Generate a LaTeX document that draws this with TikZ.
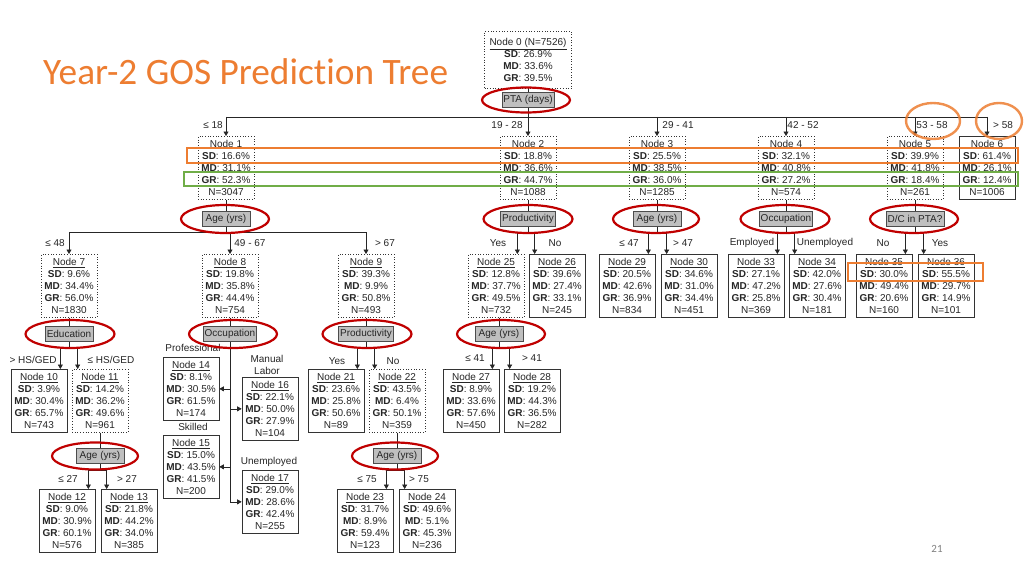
\documentclass[tikz,border=0pt]{standalone}
\usepackage{fontspec}
\setmainfont{Liberation Sans}
\newfontfamily\titlefont[Ligatures=NoCommon]{Carlito}
\usetikzlibrary{arrows.meta,shapes.geometric}
\definecolor{accorange}{RGB}{237,125,49}
\definecolor{accgreen}{RGB}{112,173,71}
\definecolor{accred}{RGB}{192,0,0}
\tikzset{
 statbox/.style={draw=black!80, line width=0.7pt, align=center, anchor=north, inner xsep=1pt, inner ysep=0pt,
   minimum width=56pt, minimum height=63pt, font=\fontsize{10}{12}\selectfont, text=black!85},
 dotbox/.style={statbox, dotted},
 solbox/.style={statbox},
 splitbox/.style={draw=black!70, line width=0.7pt, fill=black!25, font=\fontsize{10}{11}\selectfont, text=black!85,
   inner xsep=1.5pt, inner ysep=1pt, minimum width=48pt, minimum height=15pt},
 redring/.style={draw=accred, line width=2.2pt, ellipse, inner sep=0pt},
 conn/.style={draw=black!85, line width=0.7pt},
 arr/.style={conn, -{Triangle[length=4.5pt,width=5pt]}},
 lab/.style={font=\fontsize{10}{12}\selectfont, text=black!85, inner sep=1pt, align=center},
 hilite/.style={draw=accorange, line width=2pt},
}
\newcommand\stat[8]{\node[#2] (#1) at (#3) {#4\\\textbf{SD}: #5\%\\\textbf{MD}: #6\%\\\textbf{GR}: #7\%\\N=#8};}
\newcommand\twoway[3]{%
 \coordinate (#2a) at ([xshift=-7pt]#2.north east);
 \coordinate (#3a) at ([xshift=6pt]#3.north west);
 \coordinate (#1j) at ([yshift=-6pt]#1.south);
 \draw[conn] (#1.south) -- (#1j);
 \draw[conn] (#2a |- #1j) -- (#3a |- #1j);
 \draw[arr] (#2a |- #1j) -- (#2a);
 \draw[arr] (#3a |- #1j) -- (#3a);}
\begin{document}
\begin{tikzpicture}[x=1pt,y=-1pt]
\useasboundingbox (0,0) rectangle (1024,576);
\fill[white] (0,0) rectangle (1024,576);

% title
\node[anchor=base west, inner sep=0pt, font=\titlefont\fontsize{37.3}{40}\selectfont, text=accorange] (title) at (43,84) {Year-2 GOS Prediction Tree};
\node[font=\titlefont\fontsize{11}{12}\selectfont, text=black!50] (pg) at (937,549) {21};

% root
\node[dotbox, minimum width=87pt, minimum height=57pt] (n0) at (528,31)
  {\underline{Node 0 (N=7526)}\\\textbf{SD}: 26.9\%\\\textbf{MD}: 33.6\%\\\textbf{GR}: 39.5\%};
\node[splitbox] (pta) at (528,100) {PTA (days)};

% row 1
\stat{n1}{dotbox}{226,136}{Node 1}{16.6}{31.1}{52.3}{3047}
\stat{n2}{dotbox}{528,136}{Node 2}{18.8}{36.6}{44.7}{1088}
\stat{n3}{dotbox}{657,136}{Node 3}{25.5}{38.5}{36.0}{1285}
\stat{n4}{dotbox}{786,136}{Node 4}{32.1}{40.8}{27.2}{574}
\stat{n5}{dotbox}{915,136}{Node 5}{39.9}{41.8}{18.4}{261}
\stat{n6}{solbox}{987,136}{Node 6}{61.4}{26.1}{12.4}{1006}

\node[splitbox] (s1) at (226,219) {Age (yrs)};
\node[splitbox] (s2) at (528,219) {Productivity};
\node[splitbox] (s3) at (657,219) {Age (yrs)};
\node[splitbox] (s4) at (786,219) {Occupation};
\node[splitbox] (s5) at (915,219) {D/C in PTA?};

% row 2
\stat{n7}{dotbox}{69,254}{\underline{Node 7}}{9.6}{34.4}{56.0}{1830}
\stat{n8}{dotbox}{230,254}{\underline{Node 8}}{19.8}{35.8}{44.4}{754}
\stat{n9}{dotbox}{366,254}{\underline{Node 9}}{39.3}{9.9}{50.8}{493}
\stat{n25}{dotbox}{496,254}{\underline{Node 25}}{12.8}{37.7}{49.5}{732}
\stat{n26}{solbox}{557,254}{\underline{Node 26}}{39.6}{27.4}{33.1}{245}
\stat{n29}{solbox}{627,254}{\underline{Node 29}}{20.5}{42.6}{36.9}{834}
\stat{n30}{solbox}{689,254}{\underline{Node 30}}{34.6}{31.0}{34.4}{451}
\stat{n33}{solbox}{756,254}{\underline{Node 33}}{27.1}{47.2}{25.8}{369}
\stat{n34}{solbox}{817,254}{\underline{Node 34}}{42.0}{27.6}{30.4}{181}
\stat{n35}{solbox}{884,254}{\underline{Node 35}}{30.0}{49.4}{20.6}{160}
\stat{n36}{solbox}{946,254}{\underline{Node 36}}{55.5}{29.7}{14.9}{101}

\node[splitbox] (s7) at (69,334) {Education};
\node[splitbox] (s8) at (230,334) {Occupation};
\node[splitbox] (s9) at (366,334) {Productivity};
\node[splitbox] (s25) at (499,334) {Age (yrs)};

% row 3
\stat{n10}{solbox}{39,369}{\underline{Node 10}}{3.9}{30.4}{65.7}{743}
\stat{n11}{dotbox}{100,369}{\underline{Node 11}}{14.2}{36.2}{49.6}{961}
\stat{n14}{solbox}{191,357}{\underline{Node 14}}{8.1}{30.5}{61.5}{174}
\stat{n15}{solbox}{191,435}{\underline{Node 15}}{15.0}{43.5}{41.5}{200}
\stat{n16}{solbox}{270,377}{\underline{Node 16}}{22.1}{50.0}{27.9}{104}
\stat{n17}{solbox}{270,470}{\underline{Node 17}}{29.0}{28.6}{42.4}{255}
\stat{n21}{solbox}{336,369}{\underline{Node 21}}{23.6}{25.8}{50.6}{89}
\stat{n22}{dotbox}{397,369}{\underline{Node 22}}{43.5}{6.4}{50.1}{359}
\stat{n27}{solbox}{471,369}{\underline{Node 27}}{8.9}{33.6}{57.6}{450}
\stat{n28}{solbox}{532,369}{\underline{Node 28}}{19.2}{44.3}{36.5}{282}

\node[splitbox] (s11) at (100,456) {Age (yrs)};
\node[splitbox] (s22) at (397,456) {Age (yrs)};

% row 4
\stat{n12}{solbox}{67,489}{\underline{Node 12}}{9.0}{30.9}{60.1}{576}
\stat{n13}{solbox}{129,489}{\underline{Node 13}}{21.8}{44.2}{34.0}{385}
\stat{n23}{solbox}{365,489}{\underline{Node 23}}{31.7}{8.9}{59.4}{123}
\stat{n24}{solbox}{427,489}{\underline{Node 24}}{49.6}{5.1}{45.3}{236}

% node -> split connectors
\foreach \a/\b in {n0/pta,n1/s1,n2/s2,n3/s3,n4/s4,n5/s5,n7/s7,n8/s8,n9/s9,n25/s25,n11/s11,n22/s22}
  \draw[conn] (\b.north |- \a.south) -- (\b.north);

% root split
\coordinate (ptaj) at ([yshift=-9pt]pta.south);
\draw[conn] (pta.south) -- (ptaj);
\draw[conn] (ptaj -| n1.north) -- (ptaj -| n6.north);
\foreach \c in {n1,n2,n3,n4,n5,n6}
  \draw[arr] (ptaj -| \c.north) -- (\c.north);

% node 1 split
\coordinate (s1j) at ([yshift=-5.5pt]s1.south);
\draw[conn] (s1.south) -- (s1j);
\draw[conn] (s1j -| n7.north) -- (s1j -| n9.north);
\foreach \c in {n7,n8,n9}
  \draw[arr] (s1j -| \c.north) -- (\c.north);

% occupation (node 8) split
\coordinate (s8t) at (s8.south |- n17.west);
\draw[conn] (s8.south) -- (s8t);
\draw[arr] (s8.south |- n14.east) -- (n14.east);
\draw[arr] (s8.south |- n15.east) -- (n15.east);
\draw[arr] (s8.south |- n16.west) -- (n16.west);
\draw[arr] (s8t) -- (n17.west);

% two-way splits
\twoway{s2}{n25}{n26}
\twoway{s3}{n29}{n30}
\twoway{s4}{n33}{n34}
\twoway{s5}{n35}{n36}
\twoway{s7}{n10}{n11}
\twoway{s9}{n21}{n22}
\twoway{s25}{n27}{n28}
\twoway{s11}{n12}{n13}
\twoway{s22}{n23}{n24}

% edge labels
\node[lab] (l1) at (213,125) {≤ 18};
\node[lab] (l2) at (507,125) {19 - 28};
\node[lab] (l3) at (678,125) {29 - 41};
\node[lab] (l4) at (803,125) {42 - 52};
\node[lab] (l5) at (932,125) {53 - 58};
\node[lab] (l6) at (1003,125) {> 58};
\node[lab] (l7) at (55,243) {≤ 48};
\node[lab] (l8) at (250,243) {49 - 67};
\node[lab] (l9) at (385,243) {> 67};
\node[lab] (l25) at (498,243) {Yes};
\node[lab] (l26) at (555,243) {No};
\node[lab] (l29) at (629,243) {≤ 47};
\node[lab] (l30) at (683,243) {> 47};
\node[lab] (l33) at (752,243) {Employed};
\node[lab] (l34) at (825,243) {Unemployed};
\node[lab] (l35) at (883,243) {No};
\node[lab] (l36) at (940,243) {Yes};
\node[lab] (l10) at (33,360) {> HS/GED};
\node[lab] (l11) at (111,360) {≤ HS/GED};
\node[lab] (l21) at (337,361) {Yes};
\node[lab] (l22) at (393,361) {No};
\node[lab] (l27) at (475,358) {≤ 41};
\node[lab] (l28) at (532,358) {> 41};
\node[lab] (l14) at (193,348) {Professional};
\node[lab] (l15) at (193,427) {Skilled};
\node[lab] (l16) at (267,364.5) {Manual\\Labor};
\node[lab] (l17) at (269,462) {Unemployed};
\node[lab] (l12) at (68,479) {≤ 27};
\node[lab] (l13) at (127,479) {> 27};
\node[lab] (l23) at (367,479) {≤ 75};
\node[lab] (l24) at (419,479) {> 75};

% red rings
\node[redring, minimum width=88pt, minimum height=25pt] (r0) at (526,100) {};
\node[redring, minimum width=88pt, minimum height=28pt] (r1) at (225,219) {};
\node[redring, minimum width=89pt, minimum height=28pt] (r2) at (528,219) {};
\node[redring, minimum width=86pt, minimum height=28pt] (r3) at (656,219) {};
\node[redring, minimum width=89pt, minimum height=28pt] (r4) at (785,219) {};
\node[redring, minimum width=88pt, minimum height=28pt] (r5) at (914,219) {};
\node[redring, minimum width=89pt, minimum height=28pt] (r7) at (70,334) {};
\node[redring, minimum width=88pt, minimum height=28pt] (r8) at (233,334) {};
\node[redring, minimum width=89pt, minimum height=28pt] (r9) at (367,334) {};
\node[redring, minimum width=88pt, minimum height=28pt] (r25) at (501,334) {};
\node[redring, minimum width=86pt, minimum height=27pt] (r11) at (95,456) {};
\node[redring, minimum width=86pt, minimum height=27pt] (r22) at (395,456) {};

% orange / green highlights
\draw[hilite] (187,148) rectangle (1018,163);
\draw[hilite, draw=accgreen] (184,172) rectangle (1018,186);
\draw[hilite] (848,263) rectangle (983,281);
\draw[draw=accorange, opacity=0.85, line width=2.4pt] (933,121) ellipse [x radius=27, y radius=18];
\draw[draw=accorange, opacity=0.85, line width=2.4pt] (999,121) ellipse [x radius=23, y radius=18];
\end{tikzpicture}
\end{document}
